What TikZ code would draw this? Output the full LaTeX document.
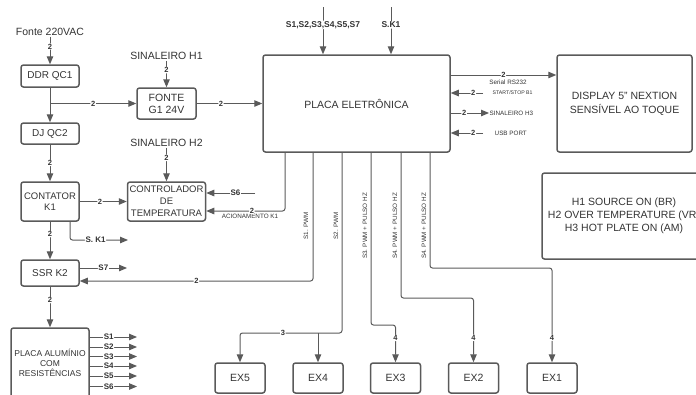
\documentclass[tikz,border=0pt]{standalone}
\usepackage{fontspec}
\setmainfont{Liberation Sans}
\usetikzlibrary{positioning,arrows.meta}
\definecolor{linegray}{HTML}{5A5A5A}
\definecolor{textgray}{HTML}{333333}
\tikzset{
  flowarrow/.style={-{Triangle[length=8pt,width=6.5pt]}, line width=1pt, draw=linegray, rounded corners=2.5pt},
  block/.style={draw=linegray, line width=1.5pt, rounded corners=2.5pt, align=center, text=textgray, inner sep=0pt, font=\fontsize{10}{12}\selectfont},
  exbox/.style={block, minimum width=50pt, minimum height=30pt, font=\fontsize{10.5}{12}\selectfont},
  caption/.style={text=textgray, font=\fontsize{10.5}{12}\selectfont, inner sep=1pt},
  num/.style={fill=white, text=textgray, font=\bfseries\fontsize{7.5}{7.5}\selectfont, inner sep=0.6pt},
  sig/.style={fill=white, text=textgray, font=\bfseries\fontsize{8}{8}\selectfont, inner sep=0.6pt},
  tinytext/.style={text=textgray, font=\fontsize{6.3}{7}\selectfont, inner sep=0.5pt}
}
\begin{document}
\begin{tikzpicture}[x=1pt, y=-1pt]
  \useasboundingbox (0,0) rectangle (696,394);
  \clip (0,0) rectangle (696,394);

  \node[caption] (f220) at (50,32) {Fonte 220VAC};
  \node[block, minimum width=58pt, minimum height=22pt] (ddr) at (50,76) {DDR QC1};
  \node[block, minimum width=58pt, minimum height=21pt] (dj) at (50,133.5) {DJ QC2};
  \node[block, minimum width=58pt, minimum height=39pt, font=\fontsize{9.5}{11}\selectfont] (cont) at (50,201.5) {CONTATOR\\K1};
  \node[block, minimum width=58pt, minimum height=26pt] (ssr) at (50,273) {SSR K2};
  \node[block, minimum width=78pt, minimum height=70pt, font=\fontsize{8.5}{10}\selectfont] (pal) at (50,363) {PLACA ALUMÍNIO\\COM\\RESISTÊNCIAS};

  \node[caption] (sh1) at (166.5,56) {SINALEIRO H1};
  \node[block, minimum width=59pt, minimum height=31pt, font=\fontsize{10.5}{12}\selectfont] (fonte) at (166.5,103.5) {FONTE\\G1 24V};
  \node[caption] (sh2) at (166.5,143) {SINALEIRO H2};
  \node[block, minimum width=78pt, minimum height=39pt, font=\fontsize{9.5}{12}\selectfont] (ctrl) at (166.5,201.5) {CONTROLADOR\\DE\\TEMPERATURA};

  \node[block, minimum width=187pt, minimum height=97pt, font=\fontsize{10.5}{12}\selectfont] (placa) at (356.5,103.5) {PLACA ELETRÔNICA};
  \node[block, minimum width=135pt, minimum height=97pt, font=\fontsize{10.5}{14}\selectfont] (disp) at (624.5,103.5) {DISPLAY 5" NEXTION\\SENSÍVEL AO TOQUE};
  \node[block, minimum width=164pt, minimum height=86pt, font=\fontsize{10.5}{13}\selectfont] (legend) at (624,216) {H1 SOURCE ON (BR)\\H2 OVER TEMPERATURE (VR)\\H3 HOT PLATE ON (AM)};

  \node[exbox] (ex5) at (240,378) {EX5};
  \node[exbox] (ex4) at (318,378) {EX4};
  \node[exbox] (ex3) at (395.5,378) {EX3};
  \node[exbox] (ex2) at (473.5,378) {EX2};
  \node[exbox] (ex1) at (552,378) {EX1};

  \coordinate (sin) at (323,7);
  \coordinate (skin) at (391,7);
  \coordinate (ssb) at (483,93);
  \coordinate (usb) at (483,133);
  \coordinate (s6in) at (255,193);
  \coordinate (sk1) at (128,240);
  \coordinate (s7) at (127,268);
  \coordinate (pk1) at (285,152);
  \coordinate (ps1) at (313,152);
  \coordinate (ps2) at (342,152);
  \coordinate (ps3) at (371,152);
  \coordinate (ps4) at (401,152);
  \coordinate (ps5) at (430,152);
  \coordinate (bus) at (0,333);
  \coordinate (s1) at (137,337);
  \coordinate (s2) at (137,347);
  \coordinate (s3) at (137,356.5);
  \coordinate (s4) at (137,366);
  \coordinate (s5) at (137,376);
  \coordinate (s6) at (137,386.5);

  \node[tinytext, anchor=west, font=\fontsize{5.2}{6}\selectfont] (ssbtxt) at (492,93) {START/STOP B1};
  \node[tinytext, anchor=west] (sh3) at (489,113) {SINALEIRO H3};
  \node[tinytext, anchor=west] (usbtxt) at (494,133) {USB PORT};
  \node[tinytext] (rs232) at (508,82) {Serial RS232};
  \node[tinytext] (acion) at (250,216.5) {ACIONAMENTO K1};
  \node[tinytext, rotate=90] (l1) at (306,226) {S1. PWM};
  \node[tinytext, rotate=90] (l2) at (336,226) {S2. PWM};
  \node[tinytext, rotate=90] (l3) at (365,226) {S3. PWM + PULSO HZ};
  \node[tinytext, rotate=90] (l4) at (395,226) {S4. PWM + PULSO HZ};
  \node[tinytext, rotate=90] (l5) at (424,226) {S4. PWM + PULSO HZ};

  \draw[flowarrow] (f220) -- node[num, pos=0.35]{2} (ddr);
  \draw[flowarrow] (ddr) -- (dj);
  \draw[flowarrow] (ddr |- fonte) -- node[num]{2} (fonte);
  \draw[flowarrow] (dj) -- node[num]{2} (cont);
  \draw[flowarrow] (sh1) -- node[num, pos=0.35]{2} (fonte);
  \draw[flowarrow] (fonte) -- node[num, pos=0.37]{2} (placa);
  \draw[flowarrow] (sh2) -- node[num, pos=0.3]{2} (ctrl);
  \draw[flowarrow] (cont) -- node[num, pos=0.43]{2} (ctrl);
  \draw[flowarrow] (cont) -- node[num, pos=0.33]{2} (ssr);
  \draw[flowarrow] (ssr) -- node[num, pos=0.33]{2} (pal);
  \draw[flowarrow] ([xshift=20pt]cont.south) |- node[sig, pos=0.72]{S. K1} (sk1);
  \draw[flowarrow] (ssr.east |- s7) -- node[sig]{S7} (s7);
  \draw[flowarrow] (s6in) -- node[sig, pos=0.4]{S6} (ctrl.east |- s6in);
  \draw[flowarrow] (pk1) |- node[num, pos=0.71]{2} (ctrl.east |- 0,211);
  \draw[flowarrow] (ps1) |- node[num, pos=0.75]{2} (ssr.east |- 0,281);

  \draw[flowarrow] (sin) -- node[sig, pos=0.38, font=\bfseries\fontsize{8.5}{8.5}\selectfont]{S1,S2,S3,S4,S5,S7} (sin |- placa.north);
  \draw[flowarrow] (skin) -- node[sig, pos=0.38, font=\bfseries\fontsize{8.5}{8.5}\selectfont]{S.K1} (skin |- placa.north);

  \draw[flowarrow] (placa.east |- 0,75) -- node[num]{2} (disp.west |- 0,75);
  \draw[flowarrow] (ssb) -- node[num, pos=0.3]{2} (placa.east |- ssb);
  \draw[flowarrow] (placa.east |- sh3) -- node[num, pos=0.35]{2} (sh3.west);
  \draw[flowarrow] (usb) -- node[num, pos=0.3]{2} (placa.east |- usb);

  \draw[flowarrow] (ps2) |- node[num, pos=0.79]{3} (ex5 |- bus) -- (ex5);
  \draw[flowarrow] (ex4 |- bus) -- (ex4);
  \draw[flowarrow] (ps3) |- (ex3 |- 0,325) -- node[num, pos=0.35]{4} (ex3);
  \draw[flowarrow] (ps4) |- (ex2 |- 0,298) -- node[num, pos=0.62]{4} (ex2);
  \draw[flowarrow] (ps5) |- (ex1 |- 0,268) -- node[num, pos=0.74]{4} (ex1);

  \draw[flowarrow] (pal.east |- s1) -- node[sig, pos=0.4]{S1} (s1);
  \draw[flowarrow] (pal.east |- s2) -- node[sig, pos=0.4]{S2} (s2);
  \draw[flowarrow] (pal.east |- s3) -- node[sig, pos=0.4]{S3} (s3);
  \draw[flowarrow] (pal.east |- s4) -- node[sig, pos=0.4]{S4} (s4);
  \draw[flowarrow] (pal.east |- s5) -- node[sig, pos=0.4]{S5} (s5);
  \draw[flowarrow] (pal.east |- s6) -- node[sig, pos=0.4]{S6} (s6);
\end{tikzpicture}
\end{document}
